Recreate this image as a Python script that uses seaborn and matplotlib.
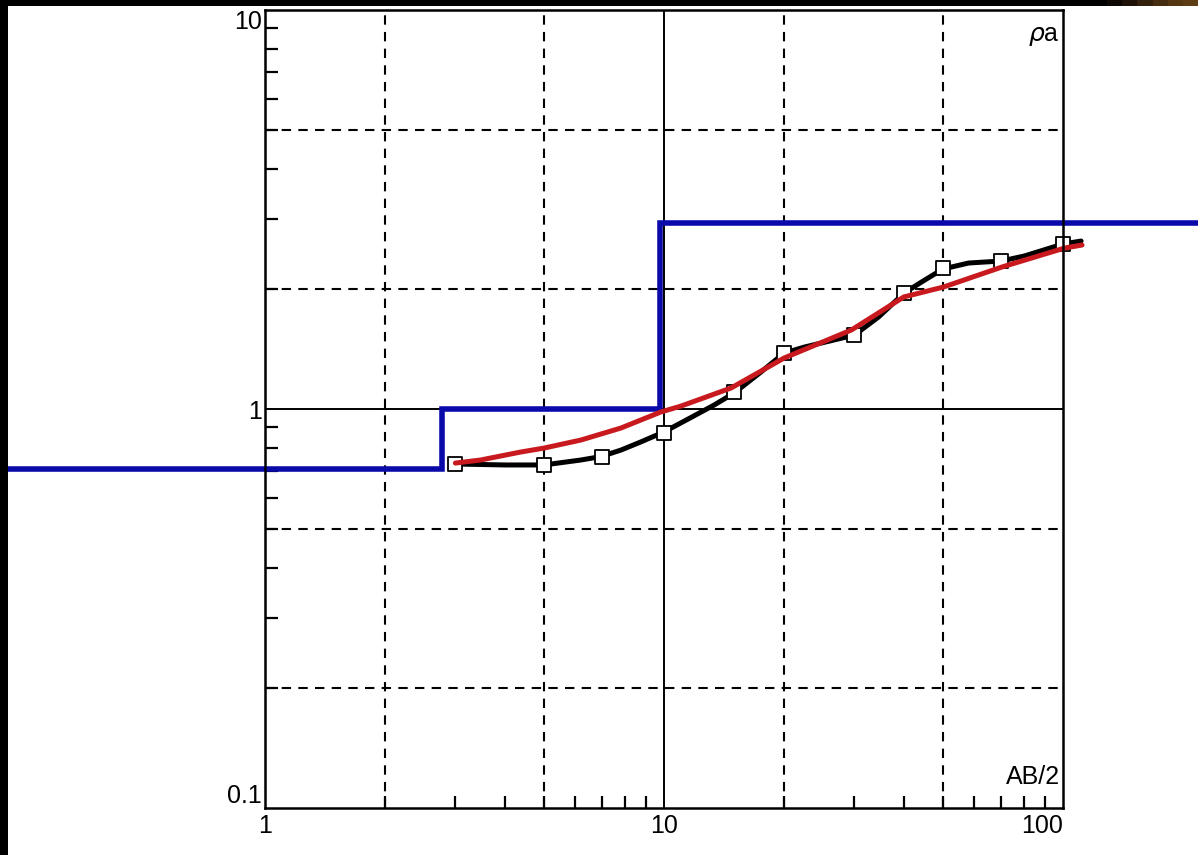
import numpy as np
import matplotlib
matplotlib.use("Agg")
import matplotlib.pyplot as plt
import seaborn as sns
import pandas as pd
from matplotlib.ticker import LogLocator, NullFormatter, FixedLocator
from matplotlib.patches import Rectangle

# ---- data ----
# measured apparent resistivity points
ab2_obs = [3, 5, 7, 10, 15, 20, 30, 40, 50, 70, 100]
rho_obs = [0.728, 0.724, 0.76, 0.87, 1.10, 1.38, 1.53, 1.95, 2.25, 2.35, 2.59]

# field (black) curve
ab2_field = [3.0, 4.0, 4.63, 5.0, 6.19, 6.95, 7.8, 8.75, 10, 11.5, 13.35, 15, 17.5,
             20, 22.5, 26, 30, 34.5, 40, 44.2, 50, 58, 70, 80, 100, 111]
rho_field = [0.728, 0.724, 0.724, 0.724, 0.745, 0.76, 0.789, 0.827, 0.876, 0.944, 1.023,
             1.097, 1.238, 1.381, 1.43, 1.48, 1.532, 1.701, 1.953, 2.081, 2.243, 2.322,
             2.349, 2.418, 2.591, 2.636]

# model (red) curve
ab2_model = [3.0, 3.47, 4.37, 5.0, 6.19, 7.8, 9.82, 11.03, 14.73, 20, 29.5, 39.9,
             50.2, 70.3, 101, 111.6]
rho_model = [0.732, 0.745, 0.780, 0.798, 0.836, 0.896, 0.983, 1.017, 1.129, 1.342,
             1.578, 1.909, 2.022, 2.269, 2.532, 2.576]

# layered model (blue step)
layer_depths = [2.77, 9.8]
layer_rho = [0.707, 1.0, 2.93]
depth_extent = [0.2, 250]

x_ticks = [1, 10, 100]
x_ticklabels = ["1", "10", "100"]
y_ticks = [0.1, 1, 10]
y_ticklabels = ["0.1", "1", "10"]

# ---- figure ----
sns.set_theme(style="white")
plt.rcParams["font.family"] = ["Liberation Sans", "DejaVu Sans"]

W, H = 1198, 855
fig = plt.figure(figsize=(W / 100, H / 100), dpi=100)
fig.patch.set_facecolor("white")
ax = fig.add_axes([265 / W, 1 - 808 / H, 798 / W, 798 / H])
ax.set_facecolor("white")
ax.set_xscale("log")
ax.set_yscale("log")
ax.set_xlim(1, 100)
ax.set_ylim(0.1, 10)

# grid lines
for gx in [2, 5, 20, 50]:
    ax.axvline(gx, color="black", lw=1.5, ls=(0, (4.5, 3.5)), zorder=1)
for gy in [0.2, 0.5, 2, 5]:
    ax.axhline(gy, color="black", lw=1.5, ls=(0, (4.5, 3.5)), zorder=1)
ax.axvline(10, color="black", lw=1.4, zorder=1)
ax.axhline(1, color="black", lw=1.4, zorder=1)

# blue step model
sx = [depth_extent[0]]
sy = [layer_rho[0]]
for d, r0, r1 in zip(layer_depths, layer_rho[:-1], layer_rho[1:]):
    sx += [d, d]
    sy += [r0, r1]
sx.append(depth_extent[1])
sy.append(layer_rho[-1])
step_df = pd.DataFrame({"x": sx, "y": sy, "i": range(len(sx))})
sns.lineplot(data=step_df, x="x", y="y", sort=False, estimator=None, ax=ax,
             color="#0a0aaa", lw=4.0, zorder=3)
ax.lines[-1].set_clip_on(False)
ax.lines[-1].set_solid_joinstyle("miter")

# black field curve
field_df = pd.DataFrame({"x": ab2_field, "y": rho_field})
sns.lineplot(data=field_df, x="x", y="y", sort=False, estimator=None, ax=ax,
             color="black", lw=3.6, zorder=4)
ax.lines[-1].set_clip_on(False)
ax.lines[-1].set_solid_joinstyle("round")

# observed points
obs_df = pd.DataFrame({"x": ab2_obs, "y": rho_obs})
sns.scatterplot(data=obs_df, x="x", y="y", ax=ax, marker="s", s=90,
                facecolor="white", edgecolor="black", linewidth=1.3, zorder=5,
                clip_on=False)

# red model curve
model_df = pd.DataFrame({"x": ab2_model, "y": rho_model})
sns.lineplot(data=model_df, x="x", y="y", sort=False, estimator=None, ax=ax,
             color="#c81a1e", lw=3.6, zorder=6)
ax.lines[-1].set_clip_on(False)
ax.lines[-1].set_solid_joinstyle("round")

# axes styling
for s in ax.spines.values():
    s.set_color("black")
    s.set_linewidth(1.8)
    s.set_zorder(7)

ax.xaxis.set_major_locator(FixedLocator(x_ticks))
ax.yaxis.set_major_locator(FixedLocator(y_ticks))
ax.set_xticklabels(x_ticklabels)
ax.set_yticklabels(y_ticklabels)
ax.xaxis.set_minor_locator(LogLocator(base=10, subs=range(2, 10)))
ax.yaxis.set_minor_locator(LogLocator(base=10, subs=range(2, 10)))
ax.xaxis.set_minor_formatter(NullFormatter())
ax.yaxis.set_minor_formatter(NullFormatter())
ax.tick_params(which="major", length=0, labelsize=18, colors="black", pad=3)
ax.tick_params(which="minor", direction="in", length=9, width=1.6, color="black",
               left=True, bottom=True, top=False, right=False)
ax.tick_params(axis="y", which="major", pad=2)
ax.tick_params(axis="x", which="major", pad=4)

xl = ax.get_xticklabels()
xl[2].set_ha("right")
yl = ax.get_yticklabels()
yl[0].set_va("bottom")
yl[2].set_va("top")

ax.set_xlabel("")
ax.set_ylabel("")

ax.text(0.996, 0.983, r"$\rho$a", transform=ax.transAxes, ha="right", va="top",
        fontsize=18, color="black")
ax.text(0.996, 0.024, "AB/2", transform=ax.transAxes, ha="right", va="bottom",
        fontsize=18, color="black")

# outer black frame strips (scan border)
fig.add_artist(Rectangle((0, 1 - 6 / H), 1, 6 / H, transform=fig.transFigure,
                         facecolor="black", edgecolor="none", zorder=20))
fig.add_artist(Rectangle((0, 0), 8 / W, 1, transform=fig.transFigure,
                         facecolor="black", edgecolor="none", zorder=20))
cols = ["#0d0804", "#1e1208", "#33200c", "#452c10", "#553612", "#5e3d14"]
x0 = 1107
step = (W - x0) / len(cols)
for k, c in enumerate(cols):
    fig.add_artist(Rectangle(((x0 + k * step) / W, 1 - 6 / H), step / W + 0.001, 6 / H,
                             transform=fig.transFigure, facecolor=c,
                             edgecolor="none", zorder=21))

fig.savefig("out.png", dpi=100)
